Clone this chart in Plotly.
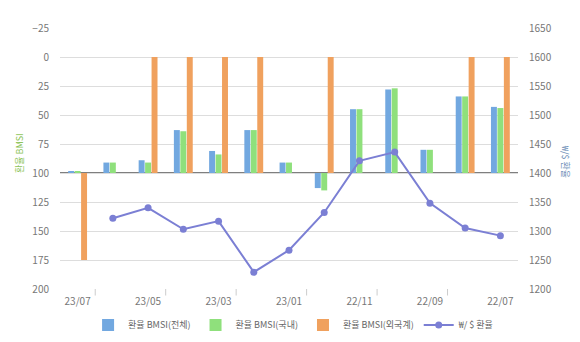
import plotly.graph_objects as go

months = ["23/07", "23/06", "23/05", "23/04", "23/03", "23/02", "23/01",
          "22/12", "22/11", "22/10", "22/09", "22/08", "22/07"]
tick_months = ["23/07", "23/05", "23/03", "23/01", "22/11", "22/09", "22/07"]
bmsi_total = [99, 91, 89, 63, 81, 63, 91, 113, 45, 28, 80, 34, 43]
bmsi_domestic = [99, 91, 91, 64, 84, 63, 91, 115, 45, 27, 80, 34, 44]
bmsi_foreign = [175, None, 0, 0, 0, 0, None, 0, None, None, None, 0, 0]
fx_rate = [None, 1322, 1340, 1303, 1317, 1229, 1267, 1332, 1421, 1436, 1348, 1305, 1292]
BASE = 100

FONT = "Noto Sans CJK KR, Noto Sans, sans-serif"

def rel(vals):
    return [None if v is None else v - BASE for v in vals]

fig = go.Figure()
fig.add_trace(go.Bar(x=months, y=rel(bmsi_total), base=BASE, name="환율 BMSI(전체)",
                     marker_color="#72a8e0", marker_line_width=0))
fig.add_trace(go.Bar(x=months, y=rel(bmsi_domestic), base=BASE, name="환율 BMSI(국내)",
                     marker_color="#8fe07c", marker_line_width=0))
fig.add_trace(go.Bar(x=months, y=rel(bmsi_foreign), base=BASE, name="환율 BMSI(외국계)",
                     marker_color="#f0a15e", marker_line_width=0))
fig.add_trace(go.Scatter(x=months, y=fx_rate, name="₩/ $ 환율", yaxis="y2",
                         mode="lines+markers", line=dict(color="#7b7fd4", width=2),
                         marker=dict(size=7, color="#7b7fd4")))

# baseline at 100
fig.add_shape(type="line", xref="paper", yref="y", x0=0, x1=1, y0=BASE, y1=BASE,
              line=dict(color="#555555", width=1.5), layer="below")

# small tick marks between category pairs
for i in range(0, len(months) - 1, 2):
    fig.add_shape(type="line", xref="x", yref="paper", x0=i + 0.5, x1=i + 0.5,
                  y0=0, y1=-0.025, line=dict(color="#cccccc", width=1))

fig.update_layout(
    width=580, height=342,
    margin=dict(l=60, r=62, t=28, b=53, autoexpand=False),
    paper_bgcolor="white", plot_bgcolor="white",
    barmode="group", bargap=0.45, bargroupgap=0.08,
    font=dict(family=FONT, size=10, color="#777777"),
    xaxis=dict(type="category", range=[-0.5, len(months) - 0.5], autorange=False,
               tickvals=tick_months, ticktext=tick_months, automargin=False,
               showgrid=False, ticks="", showline=False, zeroline=False,
               ticklabelstandoff=5,
               tickfont=dict(size=10, color="#777777")),
    yaxis=dict(range=[200, -25], tickvals=[-25, 0, 25, 50, 75, 100, 125, 150, 175, 200],
               showgrid=True, gridcolor="#dddddd", gridwidth=1, zeroline=False,
               automargin=False,
               ticks="", ticklabelstandoff=10, tickfont=dict(size=10, color="#777777")),
    yaxis2=dict(range=[1200, 1650], dtick=50, overlaying="y", side="right",
                showgrid=False, zeroline=False, ticks="", ticklabelstandoff=10,
                automargin=False,
                tickfont=dict(size=10, color="#777777")),
    legend=dict(orientation="h", x=0.51, xanchor="center", yref="container",
                y=0.05, yanchor="middle", itemwidth=30,
                font=dict(size=9, color="#666666")),
    showlegend=True,
    annotations=[
        dict(text="환율 BMSI", xref="paper", yref="paper", x=-0.09, y=0.52,
             showarrow=False, textangle=-90, font=dict(size=9, color="#8dc45a"),
             xanchor="center", yanchor="middle"),
        dict(text="₩/$ 환율", xref="paper", yref="paper", x=1.105, y=0.49,
             showarrow=False, textangle=90, font=dict(size=9, color="#6f8fb8"),
             xanchor="center", yanchor="middle"),
    ],
)

fig.write_html("out.html")
